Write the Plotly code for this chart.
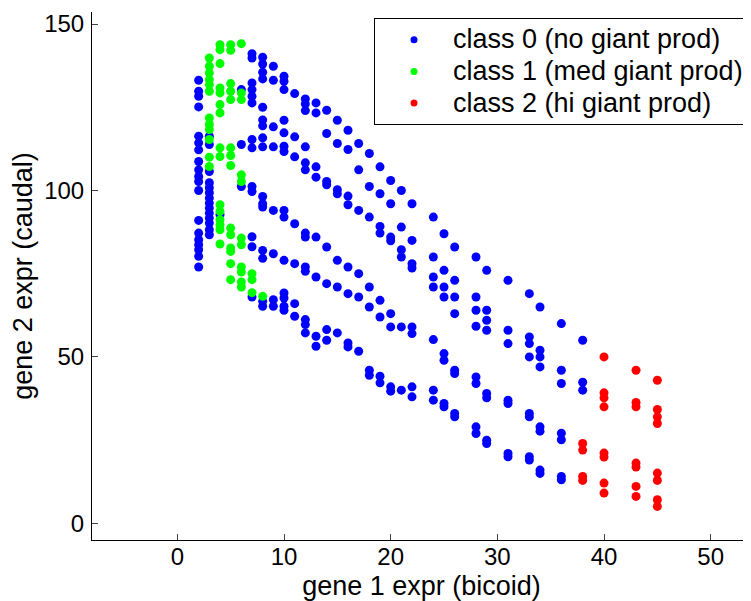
import plotly.graph_objects as go

# Class 0 (blue): x value -> list of y values
class0_cols = {
    2: [133.1, 129.8, 128.3, 125.1, 116.3, 114.3, 112.2, 108.7, 106.2, 104.2, 102.7, 100.0, 91.0, 87.2, 85.2, 83.7, 82.2, 80.2, 77.0],
    3: [116.3, 113.8, 105.7, 102.3, 100.8, 99.3, 97.7, 96.2, 94.7, 93.2, 91.7, 90.2, 88.2, 86.7],
    4: [92.7],
    6: [130.3, 113.8, 101.2],
    7: [141.1, 139.8, 132.3, 130.3, 128.3, 126.3, 115.3, 112.8, 101.2, 99.7, 86.1, 83.1, 68.0],
    8: [140.0, 138.0, 135.5, 133.5, 125.0, 121.2, 119.4, 115.8, 113.1, 98.2, 96.0, 95.0, 82.0, 79.6, 66.7, 65.2],
    9: [137.3, 133.1, 119.1, 113.1, 94.0, 81.0, 67.2, 65.2],
    10: [134.3, 132.8, 130.3, 121.1, 117.3, 113.3, 111.7, 94.0, 92.0, 79.0, 69.2, 67.7, 65.2, 64.0],
    11: [129.1, 116.1, 110.1, 90.0, 78.0, 66.0, 62.2],
    12: [127.5, 126.0, 124.0, 113.1, 108.3, 106.2, 87.2, 86.0, 77.0, 75.7, 61.2, 59.7, 57.2],
    13: [126.3, 123.3, 107.1, 104.0, 86.0, 74.0, 56.2, 53.2],
    14: [124.1, 117.1, 102.7, 101.7, 83.0, 72.0, 58.2, 55.0],
    15: [121.1, 114.1, 100.2, 99.0, 79.0, 71.0, 57.2],
    16: [118.1, 112.3, 98.3, 95.7, 77.0, 69.0, 54.2, 53.0],
    17: [114.1, 106.2, 94.0, 75.0, 68.0, 51.7],
    18: [111.1, 101.2, 92.0, 71.0, 65.0, 46.0, 44.5],
    19: [107.1, 99.0, 89.2, 87.2, 67.0, 62.0, 44.2, 42.2],
    20: [103.0, 96.0, 86.0, 84.9, 63.0, 59.0, 41.0, 39.7],
    21: [100.0, 89.0, 82.2, 80.0, 59.0, 40.0],
    22: [96.0, 85.0, 78.0, 76.7, 59.0, 57.0, 41.0, 38.0],
    24: [92.0, 80.0, 74.0, 71.0, 55.2, 40.0, 37.0],
    25: [87.0, 76.0, 71.0, 68.0, 51.0, 49.0, 36.0, 35.0],
    26: [83.0, 73.0, 68.0, 63.0, 46.0, 45.0, 33.0, 32.0],
    28: [80.0, 68.0, 64.0, 59.2, 44.0, 42.0, 29.0, 27.0],
    29: [76.0, 64.0, 61.0, 58.0, 39.0, 37.7, 25.0, 24.0],
    31: [73.0, 58.0, 54.0, 37.0, 36.0, 21.0, 20.0],
    33: [69.0, 56.0, 54.0, 50.0, 33.0, 32.0, 20.0, 19.0],
    34: [65.0, 52.0, 50.0, 47.0, 29.0, 27.7, 16.0, 15.0],
    36: [60.0, 46.0, 42.0, 27.1, 25.1, 14.1, 13.1],
    38: [55.0, 42.4, 40.0],
}

# Class 1 (green)
class1_cols = {
    3: [139.8, 137.3, 135.3, 133.3, 131.8, 129.8, 121.8, 119.8, 118.3, 115.3, 110.0, 107.2],
    4: [143.8, 142.3, 138.1, 130.8, 129.3, 125.8, 123.3, 112.8, 110.2, 95.7, 93.7, 91.2, 89.7, 88.2, 83.9],
    5: [143.8, 142.1, 132.1, 129.8, 127.3, 112.8, 110.5, 107.5, 88.7, 86.7, 82.7, 81.7, 78.0, 73.2],
    6: [144.1, 129.3, 127.3, 104.7, 102.7, 85.7, 83.7, 77.0, 75.5, 72.5, 71.0],
    7: [75.0, 73.2, 69.3],
    8: [68.2],
}

# Class 2 (red)
class2_cols = {
    38: [24.0, 22.0, 14.1, 12.9],
    40: [50.0, 39.2, 37.7, 35.0, 21.1, 19.9, 12.1, 9.1],
    43: [46.0, 36.3, 35.0, 18.1, 16.9, 11.1, 8.1],
    45: [43.0, 34.2, 32.0, 30.0, 15.1, 12.9, 7.1, 5.1],
}

labels = ["class 0 (no giant prod)", "class 1 (med giant prod)", "class 2 (hi giant prod)"]
colors = ["#0000ff", "#00ff00", "#ff0000"]
x_ticks = [0, 10, 20, 30, 40, 50]
y_ticks = [0, 50, 100, 150]


def expand(cols):
    xs, ys = [], []
    for xv, yl in cols.items():
        for yv in yl:
            xs.append(xv)
            ys.append(yv)
    return xs, ys


fig = go.Figure()
for cols, col in zip([class0_cols, class1_cols, class2_cols], colors):
    xs, ys = expand(cols)
    fig.add_trace(go.Scatter(x=xs, y=ys, mode="markers", showlegend=False,
                             marker=dict(color=col, size=9, line=dict(width=0))))
# legend entries (small dots like the original legend)
for col, lab in zip(colors, labels):
    fig.add_trace(go.Scatter(x=[None], y=[None], mode="markers",
                             name='<span style="font-size:27px">' + lab + '</span>',
                             marker=dict(color=col, size=7, line=dict(width=0))))

FAM = "Liberation Sans, Arial, sans-serif"
titlefont = dict(family=FAM, size=27, color="black")
tickfont = dict(family=FAM, size=24, color="black")

# page body has an 8px margin: figure occupies page pixels 8..751 x 8..601
W, H = 743, 593
L, R, T, B = 84, 0, 4, 61
pw, ph = W - L - R, H - T - B

fig.update_layout(
    width=W, height=H,
    margin=dict(l=L, r=R, t=T, b=B, autoexpand=False),
    paper_bgcolor="white", plot_bgcolor="white",
    font=titlefont,
    showlegend=True,
    legend=dict(x=(366 - L) / pw, y=1 - (10 - T) / ph,
                xanchor="left", yanchor="top",
                bordercolor="black", borderwidth=1, bgcolor="white",
                font=dict(family=FAM, size=22, color="black"),
                itemwidth=68, tracegroupgap=0),
    xaxis=dict(range=[-8, -8 + pw / 10.667], tickvals=x_ticks, ticks="inside", ticklen=6,
               tickcolor="#444", showline=True, linecolor="black", linewidth=1,
               showgrid=False, zeroline=False, tickfont=tickfont, ticklabelstandoff=-5,
               title=dict(text="gene 1 expr (bicoid)", font=titlefont, standoff=13)),
    yaxis=dict(range=[-5, -5 + ph / 3.329], tickvals=y_ticks, ticks="inside", ticklen=6,
               tickcolor="#444", showline=True, linecolor="black", linewidth=1,
               showgrid=False, zeroline=False, tickfont=tickfont, ticklabelstandoff=2,
               title=dict(text="gene 2 expr (caudal)", font=titlefont, standoff=10)),
)

fig.write_html("out.html")
